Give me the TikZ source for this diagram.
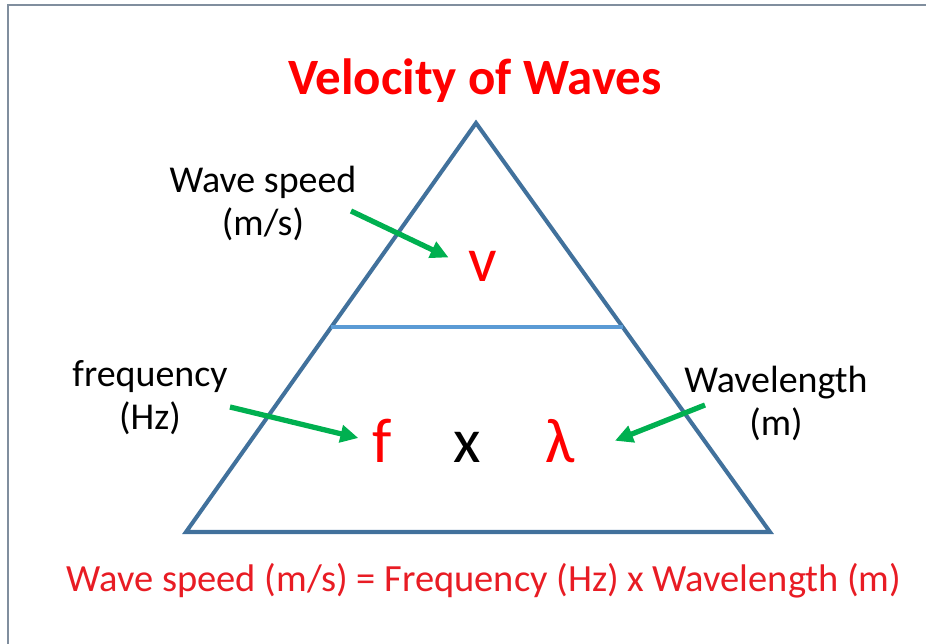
\documentclass[tikz,border=0pt]{standalone}
\usepackage{fontspec}
\setmainfont{Carlito}
\usetikzlibrary{arrows.meta, positioning, calc}
\definecolor{titlered}{RGB}{255,0,0}
\definecolor{eqred}{RGB}{232,28,36}
\definecolor{sideblue}{RGB}{65,113,156}
\definecolor{midblue}{RGB}{91,155,213}
\definecolor{pointgreen}{RGB}{0,176,80}
\definecolor{framegray}{RGB}{128,142,158}

\begin{document}
\begin{tikzpicture}[
    x=0.02cm, y=-0.02cm,
    tag/.style={font=\fontsize{21.6}{24.5}\selectfont, align=center, inner sep=0pt},
    sym/.style={font=\fontsize{36}{40}\selectfont, text=titlered, anchor=base, inner sep=0pt},
    pointer/.style={-{Triangle[length=0.36cm, width=0.34cm]}, line width=3pt, pointgreen},
    side/.style={sideblue, line width=2.3pt, line join=miter}
]
\useasboundingbox (0,0) rectangle (926,644);

% Frame
\draw[framegray, line width=1.1pt] (8,650) -- (8,5) -- (930,5);

% Title
\node[font=\fontsize{29}{32}\selectfont\bfseries, text=titlered, anchor=base] (title) at (475,95) {Velocity of Waves};

% Triangle
\coordinate (top) at (476,123);
\coordinate (bl) at (186,532);
\coordinate (br) at (770,532);
\draw[side] (top) -- (bl) -- (br) -- cycle;
\draw[midblue, line width=1.9pt] ($(top)!0.4988!(bl)$) coordinate (ml) -- ($(top)!0.4988!(br)$) coordinate (mr);

% Symbols
\node[sym] (v) at (483,282) {v};
\node[sym] (f) at (382,463) {f};
\node[sym, text=black] (times) at (467,463) {x};
\node[sym] (lam) at (560,463) {λ};

% Labels
\node[tag] (speed) at (263,203) {Wave speed\\(m/s)};
\node[tag] (freq) at (150,398) {frequency\\(Hz)};
\node[tag] (wlen) at (776,403) {Wavelength\\(m)};

% Pointers
\coordinate (speedtail) at (351,211);
\coordinate (freqtail) at (230,407);
\coordinate (wlentail) at (705,405);
\draw[pointer, shorten >=0.44cm] (speedtail) -- (v.west);
\draw[pointer, shorten >=0.28cm] (freqtail) -- (f.west);
\draw[pointer, shorten >=0.86cm] (wlentail) -- (lam.-45);

% Formula
\node[font=\fontsize{21.9}{25}\selectfont, text=eqred, anchor=base] (formula) at (484,592) {Wave speed (m/s) = Frequency (Hz) x Wavelength (m)};

\end{tikzpicture}
\end{document}
